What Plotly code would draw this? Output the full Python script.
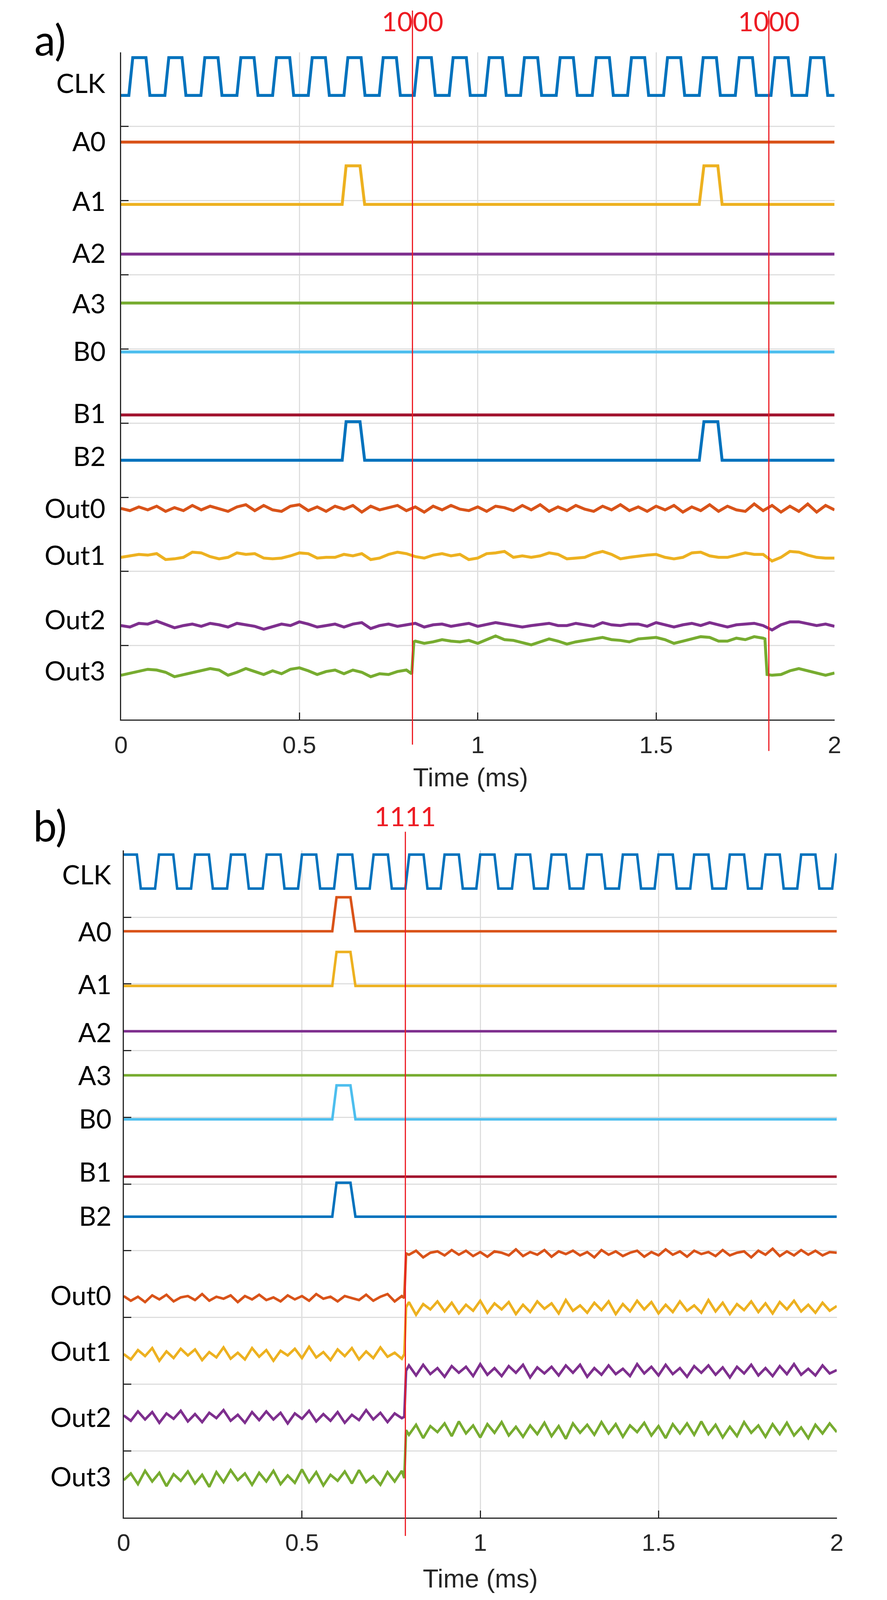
import numpy as np
import plotly.graph_objects as go

T_END = 2.0

names = ["CLK", "A0", "A1", "A2", "A3", "B0", "B1", "B2", "Out0", "Out1", "Out2", "Out3"]
colors = ["#0072BD", "#D95319", "#EDB120", "#7E2F8E", "#77AC30", "#4DBEEE",
          "#A2142F", "#0072BD", "#D95319", "#EDB120", "#7E2F8E", "#77AC30"]

x_ticks = [0, 0.5, 1, 1.5, 2]
x_tick_text = ["0", "0.5", "1", "1.5", "2"]

# ---------------- a) input 1000 ----------------
a_clk_rise = [0.022, 0.123, 0.224, 0.325, 0.425, 0.525, 0.625, 0.724, 0.822, 0.920,
              1.021, 1.120, 1.220, 1.321, 1.420, 1.521, 1.621, 1.722, 1.822, 1.922]
a_clk_fall = [0.070, 0.171, 0.272, 0.373, 0.473, 0.573, 0.673, 0.772, 0.870, 0.968,
              1.069, 1.168, 1.268, 1.369, 1.468, 1.569, 1.669, 1.770, 1.870, 1.970]
a_clk_low, a_clk_high = 8.42, 8.93
a_A0, a_A2, a_A3, a_B0, a_B1 = 7.79, 6.28, 5.62, 4.96, 4.11
a_A1_base, a_B2_base = 6.95, 3.50
a_pulse_height = 0.52
a_pulses = [(0.620, 0.631, 0.670, 0.683), (1.621, 1.634, 1.673, 1.685)]

a_out0_level = 2.85
a_out0_off = [0, -3, 2, -2, 3, -4, 1, -3, 4, -2,
              3, -1, -4, 2, 5, -3, 4, -2, -4, 3,
              5, -3, 2, -4, 3, -1, 4, -5, 3, -2,
              1, 4, -3, 2, -5, 3, -2, 4, -1, -3,
              2, -4, 3, 1, -3, 4, -2, 5, -4, 2,
              -3, 4, -1, -4, 3, -2, 5, -3, 2, -4,
              3, -2, 4, -5, 2, -3, 5, -4, 3, -2,
              -4, 6, -3, 4, -5, 3, -4, 6, -5, 4,
              -2]
a_out1 = [2.19, 2.21, 2.23, 2.22, 2.24, 2.16, 2.17, 2.19, 2.26, 2.25,
          2.20, 2.17, 2.19, 2.25, 2.23, 2.24, 2.18, 2.17, 2.18, 2.21,
          2.25, 2.24, 2.18, 2.19, 2.19, 2.23, 2.21, 2.24, 2.16, 2.18,
          2.23, 2.26, 2.24, 2.20, 2.18, 2.22, 2.24, 2.21, 2.23, 2.16,
          2.18, 2.24, 2.25, 2.27, 2.19, 2.21, 2.19, 2.21, 2.25, 2.23,
          2.17, 2.18, 2.19, 2.24, 2.27, 2.23, 2.17, 2.19, 2.21, 2.22,
          2.23, 2.19, 2.17, 2.19, 2.25, 2.26, 2.21, 2.19, 2.19, 2.22,
          2.25, 2.23, 2.23, 2.14, 2.19, 2.27, 2.26, 2.22, 2.19, 2.18,
          2.18]
a_out2 = [1.27, 1.25, 1.30, 1.29, 1.33, 1.28, 1.24, 1.27, 1.29, 1.26,
          1.30, 1.28, 1.25, 1.30, 1.28, 1.26, 1.22, 1.26, 1.29, 1.27,
          1.32, 1.29, 1.25, 1.27, 1.29, 1.25, 1.29, 1.31, 1.23, 1.27,
          1.29, 1.26, 1.28, 1.30, 1.25, 1.28, 1.29, 1.26, 1.28, 1.30,
          1.26, 1.28, 1.31, 1.29, 1.27, 1.25, 1.27, 1.29, 1.30, 1.27,
          1.27, 1.30, 1.28, 1.26, 1.31, 1.28, 1.27, 1.29, 1.29, 1.26,
          1.31, 1.28, 1.25, 1.28, 1.30, 1.27, 1.31, 1.28, 1.25, 1.28,
          1.29, 1.30, 1.27, 1.21, 1.28, 1.32, 1.32, 1.29, 1.27, 1.29,
          1.26]
a_out3 = [0.60, 0.63, 0.66, 0.68, 0.67, 0.64, 0.58, 0.61, 0.63, 0.67,
          0.69, 0.67, 0.60, 0.64, 0.69, 0.65, 0.61, 0.66, 0.62, 0.68,
          0.70, 0.66, 0.61, 0.65, 0.67, 0.62, 0.67, 0.64, 0.58, 0.62,
          0.61, 0.65, 0.67,
          1.06, 1.03, 1.05, 1.08, 1.06, 1.05, 1.07, 1.03, 1.08, 1.13,
          1.08, 1.07, 1.04, 1.01, 1.05, 1.09, 1.06, 1.02, 1.05, 1.07,
          1.09, 1.11, 1.08, 1.07, 1.05, 1.09, 1.10, 1.11, 1.08, 1.03,
          1.06, 1.09, 1.12, 1.11, 1.06, 1.06, 1.10, 1.08, 1.12, 1.10,
          0.60, 0.61, 0.66, 0.69, 0.66, 0.64, 0.60, 0.63]
a_out3_edges = [(0.815, 0.62), (0.821, 1.05), (1.805, 1.09), (1.811, 0.61)]

a_label_y = [8.59, 7.81, 7.00, 6.30, 5.62, 4.98, 4.14, 3.56, 2.86, 2.23, 1.36, 0.67]
a_marks = [0.817, 1.816]
a_mark_text = ["1000", "1000"]

# ---------------- b) input 1111 ----------------
b_clk_fall = [0.037, 0.139, 0.239, 0.340, 0.440, 0.540, 0.641, 0.741, 0.841, 0.940,
              1.040, 1.140, 1.240, 1.340, 1.440, 1.540, 1.640, 1.740, 1.840, 1.940]
b_clk_rise = [0.088, 0.189, 0.290, 0.390, 0.489, 0.590, 0.690, 0.790, 0.889, 0.989,
              1.089, 1.189, 1.289, 1.389, 1.489, 1.589, 1.689, 1.789, 1.889, 1.987]
b_clk_low, b_clk_high = 9.43, 9.94
b_A2, b_A3, b_B1 = 7.29, 6.63, 5.11
b_A0_base, b_A1_base, b_B0_base, b_B2_base = 8.79, 7.97, 5.97, 4.51
b_pulse_height = 0.51
b_pulses = [(0.585, 0.597, 0.636, 0.650)]

b_step = [0.788]
b_out0_levels = [3.29, 3.96]
b_out1_levels = [2.45, 3.15]
b_out2_levels = [1.51, 2.20]
b_out3_levels = [0.59, 1.31]
b_out0_off = [3, -4, 2, -6, 4, -2, 5, -5, 1, 3,
              -3, 6, -4, 2, -1, 4, -6, 3, -2, 5,
              -3, 1, -5, 4, -2, 3, -4, 6, -1, 2,
              -5, 3, 0, -3, 5, -4, 2, 6, -5, 3,
              -2, 4, -6, 1, 3, -3, 5, -2, 4, -4,
              2, -5, 3, 1, -3, 6, -4, 2, -2, 5,
              -5, 3, -1, 4, -3, 2, -6, 5, -2, 3,
              -4, 1, 4, -5, 2, -3, 6, -2, 3, -5,
              4, -1, 2, -4, 5, -3, 1, 3, -6, 4,
              -2, 7, -4, 3, -3, 5, -2, 4, -3, 2,
              1]
b_out1_off = [0, -8, 6, -3, 9, -10, 4, -6, 8, -2,
              7, -9, 3, -5, 10, -7, 2, -8, 9, -4,
              6, -10, 5, -2, 8, -6, 11, -5, 3, -9,
              7, -3, 9, -8, 4, -6, 10, -4, 2, -7,
              8, -11, 5, -3, 9, -6, 7, -9, 4, -5,
              10, -8, 6, -3, 8, -10, 4, -7, 9, -2,
              6, -9, 11, -5, 3, -8, 7, -4, 9, -10,
              5, -6, 10, -3, 8, -9, 4, -7, 9, -5,
              3, -8, 11, -6, 7, -10, 5, -4, 9, -7,
              6, -9, 8, -3, 10, -6, 4, -8, 7, -5,
              2]
b_out2_off = [2, -6, 8, -4, 7, -9, 5, -3, 9, -7,
              4, -8, 6, -2, 10, -6, 3, -9, 7, -5,
              8, -4, 6, -10, 5, -3, 9, -7, 4, -6,
              7, -9, 3, -5, 10, -4, 6, -8, 5, -2,
              8, -7, 9, -5, 4, -9, 7, -3, 6, -8,
              10, -6, 4, -8, 7, -3, 9, -10, 5, -4,
              6, -7, 8, -3, 9, -9, 4, -6, 8, -5,
              3, -8, 10, -4, 6, -7, 9, -5, 4, -9,
              7, -3, 8, -6, 5, -10, 6, -4, 9, -7,
              4, -8, 7, -5, 10, -6, 3, -7, 8, -4,
              1]
b_out3_off = [-3, 7, -9, 11, -5, 8, -12, 6, -4, 10,
              -8, 5, -13, 9, -6, 12, -3, 7, -10, 8,
              -5, 11, -9, 4, -7, 13, -6, 9, -11, 5,
              -4, 10, -8, 12, -6, 3, -10, 9, -5, 11,
              -7, 8, -12, 6, -3, 10, -9, 13, -5, 7,
              -11, 9, -4, 12, -8, 5, -10, 7, -6, 11,
              -9, 6, -13, 10, -4, 8, -7, 12, -5, 9,
              -10, 7, -3, 11, -8, 6, -12, 9, -5, 10,
              -7, 13, -6, 8, -11, 5, -9, 12, -4, 7,
              -10, 9, -6, 11, -8, 4, -12, 8, -5, 10,
              -3]

b_label_y = [9.65, 8.79, 8.00, 7.28, 6.64, 5.99, 5.19, 4.53, 3.34, 2.50, 1.51, 0.62]
b_marks = [0.790]
b_mark_text = ["1111"]


# ---------------- helpers ----------------
def clock_xy(rise, fall, low, high, start_high, edge=0.011):
    events = sorted([(t, high) for t in rise] + [(t, low) for t in fall])
    x = [0.0]
    y = [high if start_high else low]
    for t, lvl in events:
        x += [t, t + edge]
        y += [y[-1], lvl]
    x.append(T_END)
    y.append(y[-1])
    return x, y


def pulse_xy(base, height, pulses):
    x, y = [0.0], [base]
    for t1, t2, t3, t4 in pulses:
        x += [t1, t2, t3, t4]
        y += [base, base + height, base + height, base]
    x.append(T_END)
    y.append(base)
    return x, y


def flat_xy(level):
    return [0.0, T_END], [level, level]


def sampled_xy(values, extra=()):
    t = np.linspace(0, T_END, len(values))
    pts = sorted(list(zip(t.tolist(), values)) + list(extra))
    return [p[0] for p in pts], [p[1] for p in pts]


def stepped_xy(levels, steps, offsets, edge=0.004):
    t = np.linspace(0, T_END, len(offsets))
    idx = np.searchsorted(steps, t, side="right")
    v = np.array(levels)[idx] + np.array(offsets) / 100.0
    pts = list(zip(t.tolist(), v.tolist()))
    for i, s in enumerate(steps):
        pts += [(s - 0.001, levels[i]), (s + edge, levels[i + 1])]
    pts.sort()
    return [p[0] for p in pts], [p[1] for p in pts]


panel_a = [
    clock_xy(a_clk_rise, a_clk_fall, a_clk_low, a_clk_high, False),
    flat_xy(a_A0),
    pulse_xy(a_A1_base, a_pulse_height, a_pulses),
    flat_xy(a_A2),
    flat_xy(a_A3),
    flat_xy(a_B0),
    flat_xy(a_B1),
    pulse_xy(a_B2_base, a_pulse_height, a_pulses),
    sampled_xy([a_out0_level + o / 100.0 for o in a_out0_off]),
    sampled_xy(a_out1),
    sampled_xy(a_out2),
    sampled_xy(a_out3, a_out3_edges),
]
panel_b = [
    clock_xy(b_clk_rise, b_clk_fall, b_clk_low, b_clk_high, True),
    pulse_xy(b_A0_base, b_pulse_height, b_pulses),
    pulse_xy(b_A1_base, b_pulse_height, b_pulses),
    flat_xy(b_A2),
    flat_xy(b_A3),
    pulse_xy(b_B0_base, b_pulse_height, b_pulses),
    flat_xy(b_B1),
    pulse_xy(b_B2_base, b_pulse_height, b_pulses),
    stepped_xy(b_out0_levels, b_step, b_out0_off),
    stepped_xy(b_out1_levels, b_step, b_out1_off),
    stepped_xy(b_out2_levels, b_step, b_out2_off),
    stepped_xy(b_out3_levels, b_step, b_out3_off),
]

fig = go.Figure()
for (x, y), name, c in zip(panel_a, names, colors):
    fig.add_trace(go.Scatter(x=x, y=y, mode="lines", name=name, xaxis="x", yaxis="y",
                             line=dict(color=c, width=7.5), showlegend=False))
for (x, y), name, c in zip(panel_b, names, colors):
    fig.add_trace(go.Scatter(x=x, y=y, mode="lines", name=name, xaxis="x2", yaxis="y2",
                             line=dict(color=c, width=6.5), showlegend=False))

# only about 2270 x 4100 px of the window is visible; the body has an 8 px margin,
# so the figure is kept a bit smaller and the layout squeezed to that height
W, H = 2250, 4080
VIEW_H = 4100
SY = VIEW_H / 4248
OFF = 8
AX = "#262626"
GRID = "#dedede"
RED = "#ED1C24"


def fx(xr):  # reference pixel -> paper x
    return (xr - OFF) / W


def fy(yr):  # reference pixel -> paper y
    return 1 - (yr * SY - OFF) / H


def xaxis(domain, anchor):
    return dict(domain=domain, anchor=anchor, range=[0, T_END], tickmode="array",
                tickvals=x_ticks, ticktext=x_tick_text, ticks="inside", ticklen=18,
                tickwidth=3, tickcolor=AX, showline=True, linecolor=AX, linewidth=3,
                showgrid=True, gridcolor=GRID, gridwidth=2.5, zeroline=False,
                tickfont=dict(family="Liberation Sans", size=62, color=AX),
                ticklabelstandoff=8)


def yaxis(domain, anchor, top):
    return dict(domain=domain, anchor=anchor, range=[0, top], tickmode="linear",
                tick0=0, dtick=1, ticks="inside", ticklen=19, tickwidth=3, tickcolor=AX,
                showticklabels=False, showline=True, linecolor=AX, linewidth=3,
                showgrid=True, gridcolor=GRID, gridwidth=2.5, zeroline=False)


fig.update_layout(
    width=W, height=H, margin=dict(l=0, r=0, t=0, b=0),
    paper_bgcolor="white", plot_bgcolor="white",
    xaxis=xaxis([fx(297), fx(2151)], "y"),
    yaxis=yaxis([fy(1909), fy(139)], "x", 9),
    xaxis2=xaxis([fx(304), fx(2157)], "y2"),
    yaxis2=yaxis([fy(4025), fy(2256)], "x2", 10),
)

label_font = dict(family="Lato", size=68, color="black")
for name, yv in zip(names, a_label_y):
    fig.add_annotation(text=name, x=fx(259), xref="paper", y=yv, yref="y",
                       xanchor="right", yanchor="middle", showarrow=False, font=label_font)
for name, yv in zip(names, b_label_y):
    fig.add_annotation(text=name, x=fx(274), xref="paper", y=yv, yref="y2",
                       xanchor="right", yanchor="middle", showarrow=False, font=label_font)

# red marker lines with the input word
for t, txt, bottom in zip(a_marks, a_mark_text, [1975, 1992]):
    fig.add_shape(type="line", xref="x", yref="paper", x0=t, x1=t, y0=fy(bottom), y1=fy(28),
                  line=dict(color=RED, width=3))
    fig.add_annotation(text=txt, x=t, xref="x", y=1 - 3 / H, yref="paper", xanchor="center",
                       yanchor="top", showarrow=False,
                       font=dict(family="Lato", size=68, color=RED))
for t, txt in zip(b_marks, b_mark_text):
    fig.add_shape(type="line", xref="x2", yref="paper", x0=t, x1=t, y0=fy(4074), y1=fy(2206),
                  line=dict(color=RED, width=3))
    fig.add_annotation(text=txt, x=t, xref="x2", y=fy(2164), yref="paper", xanchor="center",
                       yanchor="middle", showarrow=False,
                       font=dict(family="Lato", size=68, color=RED))

title_font = dict(family="Liberation Sans", size=66, color=AX)
fig.add_annotation(text="Time (ms)", x=fx(1206), xref="paper", y=fy(2062), yref="paper",
                   xanchor="center", yanchor="middle", showarrow=False, font=title_font)
fig.add_annotation(text="Time (ms)", x=fx(1231), xref="paper", y=fy(4187), yref="paper",
                   xanchor="center", yanchor="middle", showarrow=False, font=title_font)

panel_font = dict(family="Lato", size=108, color="black")
fig.add_annotation(text="a)", x=fx(70), xref="paper", y=fy(104), yref="paper",
                   xanchor="left", yanchor="middle", showarrow=False, font=panel_font)
fig.add_annotation(text="b)", x=fx(67), xref="paper", y=fy(2188), yref="paper",
                   xanchor="left", yanchor="middle", showarrow=False, font=panel_font)

fig.write_html("out.html")
